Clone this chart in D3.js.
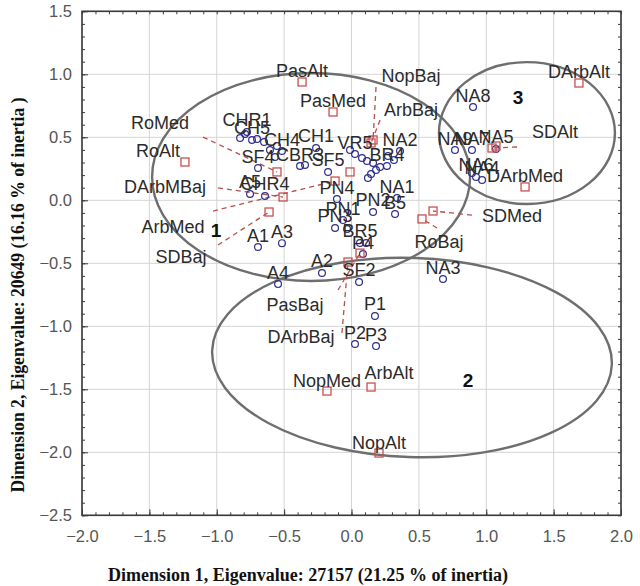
<!DOCTYPE html>
<html>
<head>
<meta charset="utf-8">
<script src="https://cdn.jsdelivr.net/npm/d3@7"></script>
<style>
  body { margin: 0; background: #fff; }
</style>
</head>
<body>
<div id="chart"></div>
<script>
// column points (red squares)
var colLabels = ["DArbAlt","PasAlt","PasMed","RoAlt","RoMed","DArbMBaj","ArbMed","SDBaj","NopBaj","ArbBaj",
                 "SDAlt","SDMed","RoBaj","DArbMed","PasBaj","DArbBaj","NopMed","ArbAlt","NopAlt","",""];
var colX = [1.688,-0.367,-0.137,-1.236,-0.553,-0.508,-0.122,-0.612,0.160,0.145,
            1.043,0.605,0.523,1.288,0.063,-0.026,-0.182,0.145,0.204,-0.011,1.072];
var colY = [0.931,0.939,0.701,0.304,0.225,0.026,0.153,-0.093,0.479,0.455,
            0.415,-0.085,-0.148,0.106,-0.419,-0.490,-1.514,-1.482,-2.006,0.225,0.431];
// where a moved column label sits (null = just above the point)
var colLabelX = [null,null,null,-1.436,-1.421,-1.384,-1.325,-1.265,0.442,0.442,
                 1.510,1.191,0.649,null,-0.419,-0.375,null,0.278,null,null,null];
var colLabelY = [null,null,null,0.399,0.621,0.106,-0.208,-0.450,0.994,0.717,
                 0.542,-0.117,-0.331,null,-0.831,-1.085,null,-1.363,null,null,null];
// start of the dashed leader line
var leadX = [null,null,null,null,-1.102,-0.991,-1.028,-0.991,0.182,0.212,
             1.228,0.894,0.635,null,-0.100,-0.071,null,null,null,null,null];
var leadY = [null,null,null,null,0.502,0.098,-0.085,-0.355,0.899,0.637,
             0.423,-0.117,-0.220,null,-0.712,-1.053,null,null,null,null,null];

// row points (blue circles)
var rowLabels = ["CHR1","CH5","CH4","CH1","CBR3","SF4","A5","CHR4","VR5","SF5","BR4","NA2","NA1","PN2","B5",
                 "PN1","PN3","BR5","P4","PN4","NA9","NA7","NA5","NA6","NA4","NA8","NA3","A1","A3","A4",
                 "A2","SF2","P1","P2","P3",
                 "","","","","","","","","","","","","","","","","","","","",""];
var rowX = [-0.776,-0.738,-0.516,-0.263,-0.382,-0.694,-0.753,-0.642,0.026,-0.174,0.263,0.360,0.338,0.160,0.323,
            -0.063,-0.122,0.063,0.085,-0.108,0.768,0.894,1.072,0.924,0.969,0.902,0.679,-0.694,-0.516,-0.545,
            -0.219,0.056,0.174,0.026,0.182,
            -0.827,-0.790,-0.701,-0.649,-0.605,-0.553,-0.568,-0.345,-0.011,0.078,0.115,0.160,0.182,0.212,0.271,
            0.122,0.145,-0.033,0.108,0.894,0.315];
var rowY = [0.542,0.479,0.391,0.415,0.272,0.256,0.050,0.034,0.367,0.225,0.272,0.391,0.018,-0.093,-0.109,
            -0.157,-0.220,-0.339,-0.427,0.010,0.399,0.399,0.407,0.185,0.161,0.740,-0.625,-0.371,-0.340,-0.665,
            -0.577,-0.648,-0.918,-1.141,-1.157,
            0.494,0.526,0.486,0.463,0.399,0.431,0.344,0.280,0.399,0.336,0.312,0.296,0.240,0.264,0.352,
            0.177,0.209,-0.228,-0.339,0.217,0.320];

// cluster ellipses
var clusterNames = ["1","2","3"];
var clusterCx = [-0.300,0.449,1.302];
var clusterCy = [0.185,-1.248,0.534];
var clusterRx = [1.180,1.484,0.653];
var clusterRy = [0.825,0.790,0.563];
var clusterTilt = [0,2,0];
var clusterNumX = [-1.006,0.865,1.236];
var clusterNumY = [-0.236,-1.430,0.820];

var xTicks = [-2.0,-1.5,-1.0,-0.5,0.0,0.5,1.0,1.5,2.0];
var yTicks = [-2.5,-2.0,-1.5,-1.0,-0.5,0.0,0.5,1.0,1.5];
var xTitle = "Dimension 1, Eigenvalue: 27157 (21.25 % of inertia)";
var yTitle = "Dimension 2, Eigenvalue: 20649 (16.16 % of inertia )";

var W = 640, H = 586;
var margin = {top: 11.3, right: 19, bottom: 70.7, left: 82},
    width = W - margin.left - margin.right,
    height = H - margin.top - margin.bottom;

var svg = d3.select("#chart").append("svg")
    .attr("width", W).attr("height", H)
    .style("font-family", "'Liberation Sans', Arial, sans-serif");

var g = svg.append("g").attr("transform", "translate(" + margin.left + "," + margin.top + ")");

var x = d3.scaleLinear().domain([-2, 2]).range([0, width]);
var y = d3.scaleLinear().domain([-2.5, 1.5]).range([height, 0]);
var fmt = d3.format(".1f");

// grid
g.append("g").selectAll("line").data(xTicks).enter().append("line")
    .attr("x1", function(d) { return x(d); }).attr("x2", function(d) { return x(d); })
    .attr("y1", 0).attr("y2", height)
    .attr("stroke", "#d4d4d4").attr("stroke-width", 1);
g.append("g").selectAll("line").data(yTicks).enter().append("line")
    .attr("y1", function(d) { return y(d); }).attr("y2", function(d) { return y(d); })
    .attr("x1", 0).attr("x2", width)
    .attr("stroke", "#d4d4d4").attr("stroke-width", 1);

// ellipses
var clusters = clusterNames.map(function(n, i) {
  return {name: n, cx: clusterCx[i], cy: clusterCy[i], rx: clusterRx[i], ry: clusterRy[i],
          tilt: clusterTilt[i], nx: clusterNumX[i], ny: clusterNumY[i]};
});
g.append("g").selectAll("ellipse").data(clusters).enter().append("ellipse")
    .attr("cx", function(d) { return x(d.cx); })
    .attr("cy", function(d) { return y(d.cy); })
    .attr("rx", function(d) { return x(d.rx) - x(0); })
    .attr("ry", function(d) { return y(0) - y(d.ry); })
    .attr("transform", function(d) { return "rotate(" + d.tilt + "," + x(d.cx) + "," + y(d.cy) + ")"; })
    .attr("fill", "none").attr("stroke", "#6e6e6e").attr("stroke-width", 2.4);

var cols = colLabels.map(function(l, i) {
  return {label: l, x: colX[i], y: colY[i], lx: colLabelX[i], ly: colLabelY[i], sx: leadX[i], sy: leadY[i]};
});
var rows = rowLabels.map(function(l, i) { return {label: l, x: rowX[i], y: rowY[i]}; });

// dashed leader lines
g.append("g").selectAll("line").data(cols.filter(function(d) { return d.sx !== null; })).enter().append("line")
    .attr("x1", function(d) { return x(d.sx); }).attr("y1", function(d) { return y(d.sy); })
    .attr("x2", function(d) { return x(d.x); }).attr("y2", function(d) { return y(d.y); })
    .attr("stroke", "#b5504e").attr("stroke-width", 1.3).attr("stroke-dasharray", "5,4");

// points
g.append("g").selectAll("circle").data(rows).enter().append("circle")
    .attr("cx", function(d) { return x(d.x); }).attr("cy", function(d) { return y(d.y); })
    .attr("r", 3.4).attr("fill", "none").attr("stroke", "#2e2e8a").attr("stroke-width", 1.2);

g.append("g").selectAll("rect").data(cols).enter().append("rect")
    .attr("x", function(d) { return x(d.x) - 4; }).attr("y", function(d) { return y(d.y) - 4; })
    .attr("width", 8).attr("height", 8)
    .attr("fill", "none").attr("stroke", "#c9504f").attr("stroke-width", 1.3);

// point labels
var labels = g.append("g").attr("font-size", "18px").attr("fill", "#2b2b2b").attr("text-anchor", "middle");
labels.selectAll("text.row").data(rows.filter(function(d) { return d.label; })).enter().append("text")
    .attr("x", function(d) { return x(d.x); })
    .attr("y", function(d) { return y(d.y) - 12; })
    .attr("dy", "0.36em")
    .text(function(d) { return d.label; });
labels.selectAll("text.col").data(cols.filter(function(d) { return d.label; })).enter().append("text")
    .attr("x", function(d) { return d.lx !== null ? x(d.lx) : x(d.x); })
    .attr("y", function(d) { return d.ly !== null ? y(d.ly) : y(d.y) - 11; })
    .attr("dy", "0.36em")
    .text(function(d) { return d.label; });

// cluster numbers
g.append("g").selectAll("text").data(clusters).enter().append("text")
    .attr("x", function(d) { return x(d.nx); }).attr("y", function(d) { return y(d.ny); })
    .attr("dy", "0.36em").attr("text-anchor", "middle")
    .attr("font-size", "19px").attr("font-weight", "bold").attr("fill", "#111")
    .text(function(d) { return d.name; });

// frame
g.append("rect").attr("width", width).attr("height", height)
    .attr("fill", "none").attr("stroke", "#3a3a3a").attr("stroke-width", 1.6);

// ticks (inward) on all four sides
var xMinor = d3.range(-20, 21).map(function(i) { return i / 10; });
var yMinor = d3.range(-25, 16).map(function(i) { return i / 10; });
function tickAxis(axis, vals, size, tr) {
  g.append("g").attr("transform", tr)
    .call(axis.tickValues(vals).tickSize(size).tickFormat(""))
    .call(function(a) { a.select(".domain").remove(); a.selectAll("line").attr("stroke", "#3a3a3a"); });
}
tickAxis(d3.axisTop(x), xMinor, 3, "translate(0," + height + ")");
tickAxis(d3.axisBottom(x), xMinor, 3, "translate(0,0)");
tickAxis(d3.axisRight(y), yMinor, 3, "translate(0,0)");
tickAxis(d3.axisLeft(y), yMinor, 3, "translate(" + width + ",0)");
tickAxis(d3.axisTop(x), xTicks, 6, "translate(0," + height + ")");
tickAxis(d3.axisRight(y), yTicks, 6, "translate(0,0)");

// tick labels
g.append("g").attr("transform", "translate(0," + height + ")")
  .call(d3.axisBottom(x).tickValues(xTicks).tickSize(0).tickPadding(15).tickFormat(fmt))
  .call(function(a) {
    a.select(".domain").remove();
    a.selectAll("text").attr("font-size", "16.5px").attr("fill", "#555")
      .attr("font-family", "'Liberation Sans', Arial, sans-serif");
  });
g.append("g")
  .call(d3.axisLeft(y).tickValues(yTicks).tickSize(0).tickPadding(10).tickFormat(fmt))
  .call(function(a) {
    a.select(".domain").remove();
    a.selectAll("text").attr("font-size", "16.5px").attr("fill", "#555")
      .attr("font-family", "'Liberation Sans', Arial, sans-serif");
  });

// axis titles
svg.append("text")
    .attr("x", 308).attr("y", 581)
    .attr("text-anchor", "middle")
    .attr("font-family", "'Liberation Serif', 'Times New Roman', serif")
    .attr("font-weight", "bold").attr("font-size", "18px").attr("fill", "#111")
    .attr("textLength", 400).attr("lengthAdjust", "spacingAndGlyphs")
    .text(xTitle);
svg.append("text")
    .attr("transform", "translate(24,295) rotate(-90)")
    .attr("text-anchor", "middle")
    .attr("font-family", "'Liberation Serif', 'Times New Roman', serif")
    .attr("font-weight", "bold").attr("font-size", "18px").attr("fill", "#111")
    .attr("textLength", 395).attr("lengthAdjust", "spacingAndGlyphs")
    .text(yTitle);
</script>
</body>
</html>
